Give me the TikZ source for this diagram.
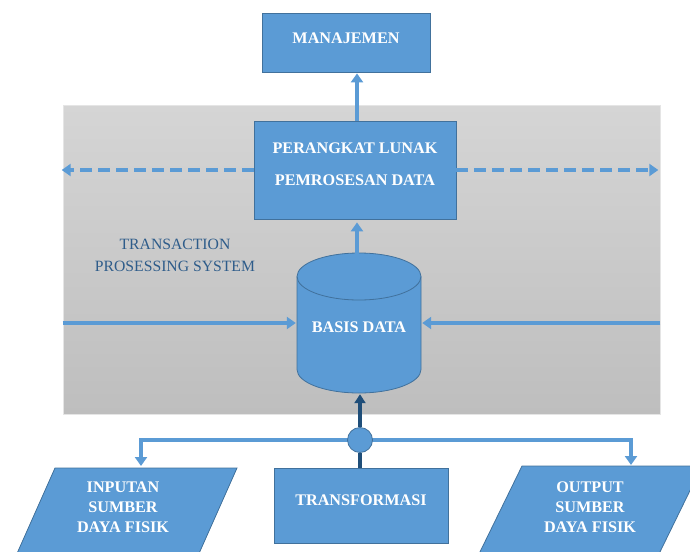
\documentclass[tikz,border=0pt]{standalone}
\usepackage{fontspec}
\setmainfont{Liberation Serif}
\usetikzlibrary{arrows.meta}
\definecolor{boxblue}{HTML}{5B9BD5}
\definecolor{boxedge}{HTML}{41719C}
\definecolor{darkarr}{HTML}{1F4E79}
\definecolor{tpsblue}{HTML}{2E5C8A}
\definecolor{paneltop}{HTML}{D5D5D5}
\definecolor{panelbot}{HTML}{BEBEBE}
\begin{document}
\begin{tikzpicture}[x=1pt,y=-1pt,
  box/.style={draw=boxedge, line width=0.8pt, fill=boxblue, inner sep=0pt},
  wtxt/.style={text=white, font=\fontsize{16.2}{20}\selectfont\bfseries, align=center, inner sep=0pt},
  panel/.style={top color=paneltop, bottom color=panelbot, draw=gray!20, line width=0.6pt, inner sep=0pt},
  arr/.style={draw=boxblue, line width=4pt, -{Triangle[length=9pt,width=12pt]}},
  darr/.style={arr, dash pattern=on 12pt off 6pt},
  dkarr/.style={draw=darkarr, line width=3.2pt, -{Triangle[length=9pt,width=11pt]}},
  dkline/.style={draw=darkarr, line width=3.2pt},
  para/.style={fill=boxblue, draw=boxedge, line width=0.8pt}
]
\useasboundingbox (0,0) rectangle (690,551);
\clip (0,0) rectangle (690,551);

% gray panel
\node[panel, minimum width=597pt, minimum height=309pt] (tps) at (361.5,259.5) {};
\node[text=tpsblue, font=\fontsize{15.7}{22}\selectfont, align=center, inner sep=0pt] (tpst) at (175,255) {TRANSACTION\\PROSESSING SYSTEM};

% boxes
\node[box, minimum width=168pt, minimum height=59pt] (man) at (346,42.5) {};
\node[wtxt] (mant) at (346,38) {MANAJEMEN};
\node[box, minimum width=202pt, minimum height=98pt] (plk) at (355,170) {};
\node[wtxt, font=\fontsize{16.2}{32}\selectfont\bfseries] (plkt) at (355,164) {PERANGKAT LUNAK\\PEMROSESAN DATA};
\node[box, minimum width=174pt, minimum height=75pt] (trans) at (361,505.5) {};
\node[wtxt] (transt) at (361,500) {TRANSFORMASI};

% cylinder
\node[inner sep=0pt, minimum width=124pt, minimum height=140pt] (db) at (359,323) {};
\fill[boxblue] (297,276.5) -- (297,369.5) arc[start angle=180, end angle=0, x radius=62, y radius=23.5] -- (421,276.5) arc[start angle=0, end angle=-180, x radius=62, y radius=23.5] -- cycle;
\draw[boxedge, line width=0.8pt] (297,276.5) -- (297,369.5) arc[start angle=180, end angle=0, x radius=62, y radius=23.5] -- (421,276.5);
\draw[boxedge, line width=0.8pt] (359,276.5) ellipse[x radius=62, y radius=23.5];
\node[wtxt] (dbt) at (359,327) {BASIS DATA};

% parallelograms
\draw[para] (55,468) -- (237,468) -- (197,558) -- (15,558) -- cycle;
\node[wtxt] (inp) at (123,507.5) {INPUTAN\\SUMBER\\DAYA FISIK};
\draw[para] (522,466) -- (702,466) -- (657,558) -- (477,558) -- cycle;
\node[wtxt] (outp) at (590,507) {OUTPUT\\SUMBER\\DAYA FISIK};

% connectors
\coordinate (upx) at (357,0);
\draw[arr, shorten >=1pt] (plk.north -| upx) -- (man.south -| upx);
\draw[arr, shorten <=-5pt, shorten >=3pt] (db.north -| upx) -- (plk.south -| upx);
\draw[darr, shorten >=-1pt] (plk.west) -- (tps.west |- plk.west);
\draw[darr, shorten >=2pt] (plk.east) -- (tps.east |- plk.east);
\draw[arr, shorten >=1pt] (tps.west |- db.west) -- (db.west);
\draw[arr, shorten >=1pt] (tps.east |- db.east) -- (db.east);

\coordinate (jc) at (360,440);
\coordinate (inptop) at (141,468);
\coordinate (outtop) at (631,466);
\draw[arr, shorten >=2pt] (jc) -| (inptop);
\draw[arr, shorten >=1pt] (jc) -| (outtop);
\node[circle, fill=boxblue, draw=boxedge, line width=0.8pt, minimum size=25pt, inner sep=0pt] (junc) at (jc) {};
\draw[dkarr, shorten >=1pt] (junc.north) -- (junc.north |- db.south);
\draw[dkline] (junc.south) -- (junc.south |- trans.north);
\end{tikzpicture}
\end{document}
